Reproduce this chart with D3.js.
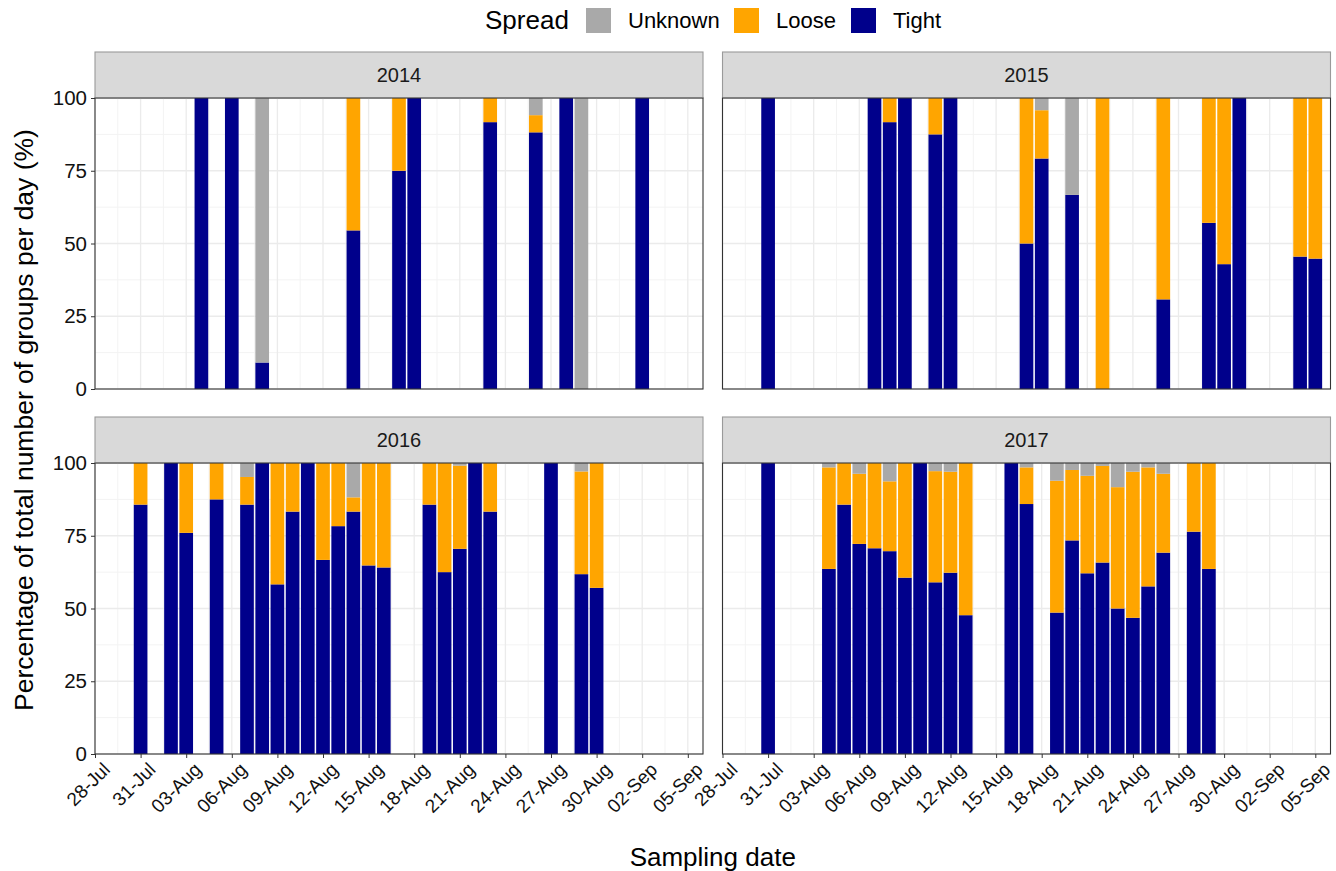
<!DOCTYPE html>
<html>
<head>
<meta charset="utf-8">
<script src="https://cdn.jsdelivr.net/npm/d3@7"></script>
<style>
  body { margin: 0; background: #fff; }
  svg { font-family: Arial, "Liberation Sans", sans-serif; }
</style>
</head>
<body>
<div class="chart"></div>
<script>
// ---- data, percent of groups per day ----
var years = ['2014', '2015', '2016', '2017'];
var spreads = ['Tight', 'Loose', 'Unknown'];
var legendOrder = ['Unknown', 'Loose', 'Tight'];
var tickLabels = ['28-Jul', '31-Jul', '03-Aug', '06-Aug', '09-Aug', '12-Aug', '15-Aug',
                  '18-Aug', '21-Aug', '24-Aug', '27-Aug', '30-Aug', '02-Sep', '05-Sep'];
var yTicks = [0, 25, 50, 75, 100];

var dates2014   = ['04-Aug', '06-Aug', '08-Aug', '14-Aug', '17-Aug', '18-Aug', '23-Aug', '26-Aug', '28-Aug', '29-Aug', '02-Sep'];
var tight2014   = [100, 100, 9.1, 54.5, 75, 100, 91.7, 88.2, 100, 0, 100];
var loose2014   = [0, 0, 0, 45.5, 25, 0, 8.3, 5.9, 0, 0, 0];
var unknown2014 = [0, 0, 90.9, 0, 0, 0, 0, 5.9, 0, 100, 0];

var dates2015   = ['31-Jul', '07-Aug', '08-Aug', '09-Aug', '11-Aug', '12-Aug', '17-Aug', '18-Aug', '20-Aug', '22-Aug', '26-Aug', '29-Aug', '30-Aug', '31-Aug', '04-Sep', '05-Sep'];
var tight2015   = [100, 100, 91.7, 100, 87.5, 100, 50, 79.2, 66.7, 0, 30.8, 57.1, 42.9, 100, 45.5, 44.8];
var loose2015   = [0, 0, 8.3, 0, 12.5, 0, 50, 16.6, 0, 100, 69.2, 42.9, 57.1, 0, 54.5, 55.2];
var unknown2015 = [0, 0, 0, 0, 0, 0, 0, 4.2, 33.3, 0, 0, 0, 0, 0, 0, 0];

var dates2016   = ['31-Jul', '02-Aug', '03-Aug', '05-Aug', '07-Aug', '08-Aug', '09-Aug', '10-Aug', '11-Aug', '12-Aug', '13-Aug', '14-Aug', '15-Aug', '16-Aug', '19-Aug', '20-Aug', '21-Aug', '22-Aug', '23-Aug', '27-Aug', '29-Aug', '30-Aug'];
var tight2016   = [85.7, 100, 76, 87.5, 85.7, 100, 58.3, 83.3, 100, 66.7, 78.3, 83.3, 64.8, 64.1, 85.7, 62.5, 70.5, 100, 83.3, 100, 61.8, 57.1];
var loose2016   = [14.3, 0, 24, 12.5, 9.5, 0, 41.7, 16.7, 0, 33.3, 21.7, 4.9, 35.2, 35.9, 14.3, 37.5, 28.6, 0, 16.7, 0, 35.3, 42.9];
var unknown2016 = [0, 0, 0, 0, 4.8, 0, 0, 0, 0, 0, 0, 11.8, 0, 0, 0, 0, 0.9, 0, 0, 0, 2.9, 0];

var dates2017   = ['31-Jul', '04-Aug', '05-Aug', '06-Aug', '07-Aug', '08-Aug', '09-Aug', '10-Aug', '11-Aug', '12-Aug', '13-Aug', '16-Aug', '17-Aug', '19-Aug', '20-Aug', '21-Aug', '22-Aug', '23-Aug', '24-Aug', '25-Aug', '26-Aug', '28-Aug', '29-Aug'];
var tight2017   = [100, 63.6, 85.7, 72.2, 70.7, 69.7, 60.6, 100, 59, 62.3, 47.7, 100, 85.9, 48.6, 73.4, 62.1, 65.8, 50, 46.8, 57.6, 69.2, 76.4, 63.6];
var loose2017   = [0, 34.9, 14.3, 24.1, 29.3, 24, 39.4, 0, 38.2, 34.7, 52.3, 0, 12.6, 45.3, 24.2, 33.5, 33.2, 41.7, 50.2, 40.9, 27.1, 23.6, 36.4];
var unknown2017 = [0, 1.5, 0, 3.7, 0, 6.3, 0, 0, 2.8, 3, 0, 0, 1.5, 6.1, 2.4, 4.4, 1, 8.3, 3, 1.5, 3.7, 0, 0];

var width = 1336, height = 871;
var colors = { Tight: '#00008B', Loose: '#FFA500', Unknown: '#A9A9A9' };

var parseDay = d3.utcParse('%d-%b-%Y');
function toDate(s) { return parseDay(s + '-2014'); }

function buildRows(dates, tight, loose, unknown) {
    return dates.map(function(d, i) {
        return { date: toDate(d), Tight: tight[i], Loose: loose[i], Unknown: unknown[i] };
    });
}

var yearData = {
    '2014': buildRows(dates2014, tight2014, loose2014, unknown2014),
    '2015': buildRows(dates2015, tight2015, loose2015, unknown2015),
    '2016': buildRows(dates2016, tight2016, loose2016, unknown2016),
    '2017': buildRows(dates2017, tight2017, loose2017, unknown2017)
};

// panel layout (2 x 2 facets)
var colX = [95, 722.5];
var panelW = 608;
var rowY = [98, 463];
var panelH = 291;
var stripH = 46;

var svg = d3.select('.chart')
    .append('svg')
        .attr('width', width)
        .attr('height', height);

// 28-Jul .. 06-Sep (40 days)
var x = d3.scaleUtc()
    .domain([toDate('28-Jul'), d3.utcDay.offset(toDate('28-Jul'), 40)])
    .range([0, panelW]);

var y = d3.scaleLinear()
    .domain([0, 100])
    .range([panelH, 0]);

var dayW = x(d3.utcDay.offset(toDate('28-Jul'), 1)) - x(toDate('28-Jul'));
var barW = dayW * 0.9;

var majorX = tickLabels.map(toDate);
var minorX = majorX.map(function(d) { return new Date(d.getTime() + 1.5 * 864e5); })
    .filter(function(d) { return x(d) < panelW; });
var minorY = [12.5, 37.5, 62.5, 87.5];

var stack = d3.stack().keys(spreads);

years.forEach(function(year, i) {
    var col = i % 2, row = Math.floor(i / 2);
    var g = svg.append('g')
        .attr('transform', 'translate(' + colX[col] + ',' + rowY[row] + ')');

    // strip
    g.append('rect')
        .attr('x', 0).attr('y', -stripH)
        .attr('width', panelW).attr('height', stripH)
        .attr('fill', '#D9D9D9')
        .attr('stroke', '#9a9a9a')
        .attr('stroke-width', 1.1);
    g.append('text')
        .attr('x', panelW / 2).attr('y', -stripH / 2)
        .attr('dy', '0.35em')
        .attr('text-anchor', 'middle')
        .style('font-size', '20px')
        .style('fill', '#1a1a1a')
        .text(year);

    // grid
    g.selectAll('.minorx').data(minorX).enter().append('line')
        .attr('x1', function(d) { return x(d); }).attr('x2', function(d) { return x(d); })
        .attr('y1', 0).attr('y2', panelH)
        .attr('stroke', '#f3f3f3').attr('stroke-width', 1);
    g.selectAll('.minory').data(minorY).enter().append('line')
        .attr('x1', 0).attr('x2', panelW)
        .attr('y1', function(d) { return y(d); }).attr('y2', function(d) { return y(d); })
        .attr('stroke', '#f3f3f3').attr('stroke-width', 1);
    g.selectAll('.majorx').data(majorX).enter().append('line')
        .attr('x1', function(d) { return x(d); }).attr('x2', function(d) { return x(d); })
        .attr('y1', 0).attr('y2', panelH)
        .attr('stroke', '#ebebeb').attr('stroke-width', 1.3);
    g.selectAll('.majory').data(yTicks).enter().append('line')
        .attr('x1', 0).attr('x2', panelW)
        .attr('y1', function(d) { return y(d); }).attr('y2', function(d) { return y(d); })
        .attr('stroke', '#ebebeb').attr('stroke-width', 1.3);

    // stacked bars
    var series = stack(yearData[year]);
    g.selectAll('.layer')
        .data(series)
        .enter()
        .append('g')
        .attr('fill', function(d) { return colors[d.key]; })
        .selectAll('rect')
        .data(function(d) { return d; })
        .enter()
        .append('rect')
        .attr('x', function(d) { return x(d.data.date) - barW / 2; })
        .attr('width', barW)
        .attr('y', function(d) { return y(d[1]); })
        .attr('height', function(d) { return Math.max(0, y(d[0]) - y(d[1])); });

    // panel border
    g.append('rect')
        .attr('width', panelW).attr('height', panelH)
        .attr('fill', 'none')
        .attr('stroke', '#333')
        .attr('stroke-width', 1.1);

    // y axis on left column only
    if (col === 0) {
        var yAxis = g.append('g')
            .call(d3.axisLeft(y).tickValues(yTicks).tickSize(4).tickPadding(4));
        yAxis.select('.domain').remove();
        yAxis.selectAll('line').attr('stroke', '#333');
        yAxis.selectAll('text')
            .style('font-size', '20.5px')
            .style('font-family', 'Arial, "Liberation Sans", sans-serif')
            .style('fill', '#111');
    }

    // x axis on bottom row only
    if (row === 1) {
        var xAxis = g.append('g')
            .attr('transform', 'translate(0,' + panelH + ')')
            .call(d3.axisBottom(x).tickValues(majorX).tickFormat(d3.utcFormat('%d-%b')).tickSize(4).tickPadding(2));
        xAxis.select('.domain').remove();
        xAxis.selectAll('line').attr('stroke', '#333');
        xAxis.selectAll('text')
            .style('font-size', '19px')
            .style('font-family', 'Arial, "Liberation Sans", sans-serif')
            .style('fill', '#111')
            .attr('text-anchor', 'end')
            .attr('y', 0)
            .attr('dy', '0.72em')
            .attr('transform', 'translate(6,7) rotate(-45)');
    }
});

// axis titles
svg.append('text')
    .attr('x', (colX[0] + colX[1] + panelW) / 2)
    .attr('y', 857)
    .attr('dy', '0.35em')
    .attr('text-anchor', 'middle')
    .style('font-size', '26px')
    .text('Sampling date');

svg.append('text')
    .attr('transform', 'translate(24,420) rotate(-90)')
    .attr('text-anchor', 'middle')
    .attr('dy', '0.35em')
    .style('font-size', '26.5px')
    .text('Percentage of total number of groups per day (%)');

// legend
var legend = svg.append('g').attr('transform', 'translate(0,20)');
legend.append('text')
    .attr('x', 485).attr('dy', '0.35em')
    .style('font-size', '26px')
    .text('Spread');
var legendX = [586, 734, 851];
legendOrder.forEach(function(k, i) {
    legend.append('rect')
        .attr('x', legendX[i]).attr('y', -12)
        .attr('width', 25).attr('height', 25)
        .attr('fill', colors[k]);
    legend.append('text')
        .attr('x', legendX[i] + 42).attr('dy', '0.35em')
        .style('font-size', '22px')
        .text(k);
});
</script>
</body>
</html>
